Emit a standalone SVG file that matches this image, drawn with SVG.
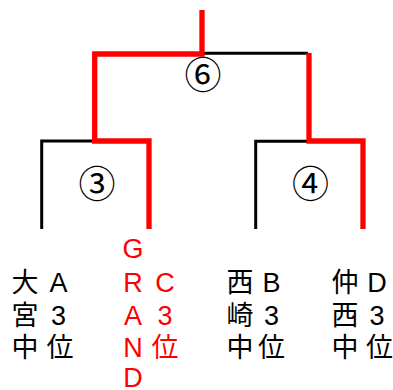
<svg xmlns="http://www.w3.org/2000/svg" width="393" height="390" viewBox="0 0 393 390">
<style>
.blk{stroke:#000;stroke-width:3;fill:none}
.red{stroke:#ff0000;stroke-width:5.3;fill:none;stroke-linejoin:miter;stroke-linecap:butt}
.t{font-family:"Liberation Sans","Noto Sans CJK JP",sans-serif;font-size:27px;text-anchor:middle}
.num{font-family:"Noto Sans CJK JP",sans-serif;font-size:37px;text-anchor:middle}
.r{fill:#ff0000}
</style>
<rect width="393" height="390" fill="#fff"/>
<g id="connectors">
<polyline class="blk" points="202,53.3 308,53.3"/>
<polyline class="blk" points="41.7,229 41.7,141 95,141"/>
<polyline class="blk" points="255.7,229 255.7,141.3 309,141.3"/>
<polyline class="red" points="202,10 202,54 94.7,54 94.7,141 149,141 149,229"/>
<polyline class="red" points="309,53 309,141 363,141 363,229"/>
</g>
<g id="match6"><text class="num" x="203" y="89">⑥</text></g>
<g id="match3"><text class="num" x="97" y="197.5">③</text></g>
<g id="match4"><text class="num" x="310.5" y="197.5">④</text></g>
<g id="team-omiya">
<text class="t" x="25" y="292">大</text><text class="t" x="58.5" y="292">A</text>
<text class="t" x="25" y="325">宮</text><text class="t" x="58.5" y="325">3</text>
<text class="t" x="25" y="357">中</text><text class="t" x="60" y="357">位</text>
</g>
<g id="team-grand" class="r">
<text class="t r" x="133" y="258">G</text>
<text class="t r" x="133" y="292">R</text><text class="t r" x="165" y="292">C</text>
<text class="t r" x="133" y="325">A</text><text class="t r" x="165" y="325">3</text>
<text class="t r" x="133" y="357">N</text><text class="t r" x="165" y="357">位</text>
<text class="t r" x="133" y="387">D</text>
</g>
<g id="team-nishizaki">
<text class="t" x="240" y="292">西</text><text class="t" x="271.5" y="292">B</text>
<text class="t" x="240" y="325">崎</text><text class="t" x="271.5" y="325">3</text>
<text class="t" x="240" y="357">中</text><text class="t" x="271.5" y="357">位</text>
</g>
<g id="team-nakanishi">
<text class="t" x="345" y="292">仲</text><text class="t" x="377" y="292">D</text>
<text class="t" x="345" y="325">西</text><text class="t" x="377" y="325">3</text>
<text class="t" x="345" y="357">中</text><text class="t" x="379.5" y="357">位</text>
</g>
</svg>
